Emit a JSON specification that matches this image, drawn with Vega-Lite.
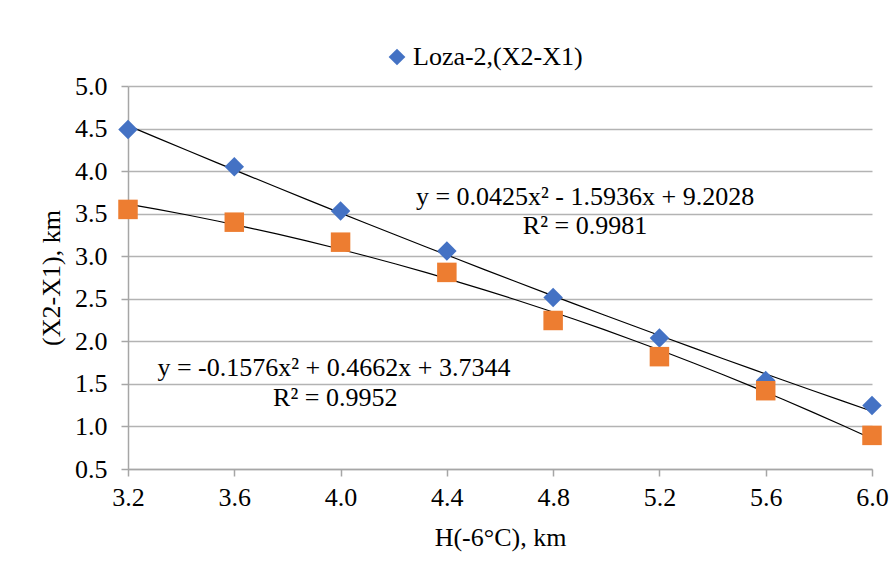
{
  "$schema": "https://vega.github.io/schema/vega-lite/v6.json",
  "width": 744,
  "height": 383,
  "autosize": "none",
  "padding": {"left": 128, "top": 86, "right": 24, "bottom": 110},
  "background": "white",
  "config": {
    "view": {"stroke": null},
    "font": "Liberation Serif",
    "axis": {
      "labelFont": "Liberation Serif",
      "titleFont": "Liberation Serif",
      "labelFontSize": 26,
      "titleFontSize": 26,
      "labelColor": "#000000",
      "titleColor": "#000000",
      "titleFontWeight": "normal",
      "domainColor": "#A6A6A6",
      "domainWidth": 1.5,
      "tickColor": "#A6A6A6",
      "tickWidth": 1.5,
      "tickSize": 7,
      "gridColor": "#B3B3B3",
      "gridWidth": 1.5,
      "labelFlush": false,
      "labelOverlap": false
    },
    "legend": {
      "labelFont": "Liberation Serif",
      "labelFontSize": 26,
      "labelColor": "#000000",
      "labelLimit": 0
    }
  },
  "datasets": {
    "pts": [
      {"h": 3.2, "v": 4.49, "series": "Loza-2,(X2-X1)"},
      {"h": 3.6, "v": 4.05, "series": "Loza-2,(X2-X1)"},
      {"h": 4.0, "v": 3.53, "series": "Loza-2,(X2-X1)"},
      {"h": 4.4, "v": 3.06, "series": "Loza-2,(X2-X1)"},
      {"h": 4.8, "v": 2.515, "series": "Loza-2,(X2-X1)"},
      {"h": 5.2, "v": 2.04, "series": "Loza-2,(X2-X1)"},
      {"h": 5.6, "v": 1.54, "series": "Loza-2,(X2-X1)"},
      {"h": 6.0, "v": 1.245, "series": "Loza-2,(X2-X1)"},
      {"h": 3.2, "v": 3.55, "series": "Series2"},
      {"h": 3.6, "v": 3.40, "series": "Series2"},
      {"h": 4.0, "v": 3.165, "series": "Series2"},
      {"h": 4.4, "v": 2.81, "series": "Series2"},
      {"h": 4.8, "v": 2.245, "series": "Series2"},
      {"h": 5.2, "v": 1.82, "series": "Series2"},
      {"h": 5.6, "v": 1.42, "series": "Series2"},
      {"h": 6.0, "v": 0.895, "series": "Series2"}
    ],
    "notes": [
      {"h": 4.92, "v": 3.70, "label": "y = 0.0425x² - 1.5936x + 9.2028"},
      {"h": 4.92, "v": 3.36, "label": "R² = 0.9981"},
      {"h": 3.975, "v": 1.69, "label": "y = -0.1576x² + 0.4662x + 3.7344"},
      {"h": 3.98, "v": 1.34, "label": "R² = 0.9952"}
    ]
  },
  "layer": [
    {
      "data": {"name": "pts"},
      "transform": [
        {"regression": "v", "on": "h", "groupby": ["series"], "method": "poly", "order": 2, "extent": [3.2, 6.0]}
      ],
      "mark": {"type": "line", "color": "#000000", "strokeWidth": 1.2},
      "encoding": {
        "x": {"field": "h", "type": "quantitative"},
        "y": {"field": "v", "type": "quantitative"},
        "detail": {"field": "series"}
      }
    },
    {
      "data": {"name": "pts"},
      "mark": {"type": "point", "filled": true, "opacity": 1, "size": 380},
      "encoding": {
        "x": {
          "field": "h", "type": "quantitative",
          "scale": {"domain": [3.2, 6.0], "nice": false, "zero": false},
          "axis": {
            "values": [3.2, 3.6, 4.0, 4.4, 4.8, 5.2, 5.6, 6.0],
            "format": ".1f", "grid": false,
            "title": "H(-6°C), km",
            "labelPadding": 8, "titlePadding": 14
          }
        },
        "y": {
          "field": "v", "type": "quantitative",
          "scale": {"domain": [0.5, 5.0], "nice": false, "zero": false},
          "axis": {
            "values": [0.5, 1.0, 1.5, 2.0, 2.5, 3.0, 3.5, 4.0, 4.5, 5.0],
            "format": ".1f", "grid": true,
            "title": "(X2-X1), km",
            "labelPadding": 14, "titlePadding": 10
          }
        },
        "color": {
          "field": "series", "type": "nominal",
          "scale": {"domain": ["Loza-2,(X2-X1)", "Series2"], "range": ["#4472C4", "#ED7D31"]},
          "legend": {
            "title": null, "values": ["Loza-2,(X2-X1)"],
            "orient": "none", "legendX": 256, "legendY": -42,
            "symbolSize": 280, "symbolStrokeWidth": 0, "labelOffset": 3
          }
        },
        "shape": {
          "field": "series", "type": "nominal",
          "scale": {"domain": ["Loza-2,(X2-X1)", "Series2"], "range": ["diamond", "square"]},
          "legend": {
            "title": null, "values": ["Loza-2,(X2-X1)"],
            "orient": "none", "legendX": 256, "legendY": -42,
            "symbolSize": 280, "symbolStrokeWidth": 0, "labelOffset": 3
          }
        }
      }
    },
    {
      "data": {"name": "notes"},
      "mark": {"type": "text", "font": "Liberation Serif", "fontSize": 26, "color": "#000000", "align": "center", "baseline": "middle"},
      "encoding": {
        "x": {"field": "h", "type": "quantitative"},
        "y": {"field": "v", "type": "quantitative"},
        "text": {"field": "label"}
      }
    }
  ]
}
